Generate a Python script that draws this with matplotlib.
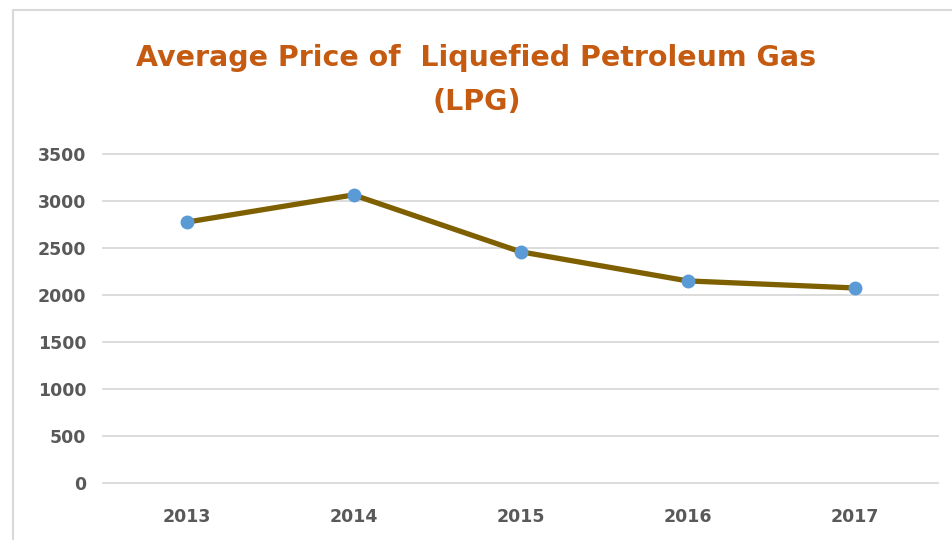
import matplotlib.pyplot as plt
from matplotlib.patches import Rectangle

years = ["2013", "2014", "2015", "2016", "2017"]
prices = [2775, 3065, 2460, 2150, 2075]
yticks = [0, 500, 1000, 1500, 2000, 2500, 3000, 3500]

fig = plt.figure(figsize=(9.53, 5.4), dpi=100)
fig.patches.append(Rectangle((13 / 953, -0.05), 1.2, 1 - 10 / 540 + 0.05,
                             transform=fig.transFigure, fill=False,
                             edgecolor="#d9d9d9", linewidth=1.5))

ax = fig.add_axes([103 / 953, 1 - 483 / 540, 835 / 953, 329 / 540])
x = list(range(len(years)))
ax.plot(x, prices, color="#7f6000", linewidth=3.8, zorder=3)
ax.plot(x, prices, "o", color="#5b9bd5", markersize=9, zorder=4)

ax.set_xlim(-0.5, 4.5)
ax.set_ylim(0, 3500)
ax.set_yticks(yticks)
ax.set_xticks(x)
ax.set_xticklabels(years)
ax.grid(axis="y", color="#d9d9d9", linewidth=1.3)
for gl in ax.get_ygridlines():
    gl.set_clip_on(False)
ax.set_axisbelow(True)
for s in ax.spines.values():
    s.set_visible(False)
ax.tick_params(length=0, labelsize=12.5, labelcolor="#595959", pad=12)
ax.tick_params(axis="x", pad=18)
for lab in ax.get_xticklabels() + ax.get_yticklabels():
    lab.set_fontweight("bold")

fig.text(0.5, 1 - 80 / 540, "Average Price of  Liquefied Petroleum Gas\n(LPG)",
         ha="center", va="center", fontsize=20.5, fontweight="bold",
         color="#c55a11", linespacing=1.75)

fig.savefig("out.png", dpi=100)
